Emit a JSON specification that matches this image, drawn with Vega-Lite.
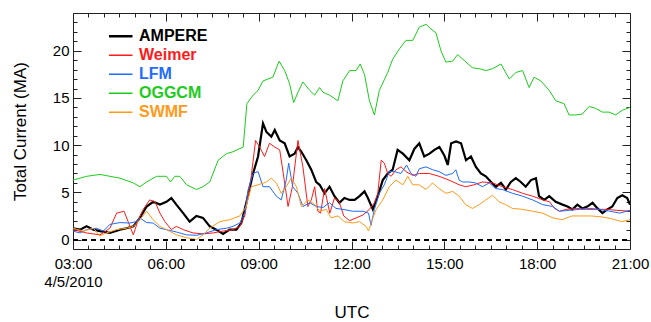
{
  "$schema": "https://vega.github.io/schema/vega-lite/v6.json",
  "width": 557,
  "height": 236,
  "autosize": {"type": "none"},
  "padding": {"left": 73, "top": 13, "right": 21, "bottom": 73},
  "config": {
    "font": "Liberation Sans",
    "view": {"stroke": "#222", "strokeWidth": 1}
  },
  "data": {"values": [
    {"m":"AMPERE","h":3.0,"v":1.2},{"m":"AMPERE","h":3.23,"v":1.05},{"m":"AMPERE","h":3.44,"v":1.4},{"m":"AMPERE","h":3.66,"v":1.05},{"m":"AMPERE","h":3.87,"v":0.9},{"m":"AMPERE","h":4.19,"v":0.7},{"m":"AMPERE","h":4.52,"v":1.05},{"m":"AMPERE","h":4.73,"v":1.2},{"m":"AMPERE","h":4.95,"v":1.4},{"m":"AMPERE","h":5.16,"v":2.3},{"m":"AMPERE","h":5.38,"v":3.5},{"m":"AMPERE","h":5.59,"v":4.0},{"m":"AMPERE","h":5.81,"v":3.7},{"m":"AMPERE","h":6.02,"v":4.0},{"m":"AMPERE","h":6.18,"v":4.4},{"m":"AMPERE","h":6.34,"v":3.7},{"m":"AMPERE","h":6.56,"v":2.8},{"m":"AMPERE","h":6.77,"v":1.9},{"m":"AMPERE","h":6.99,"v":2.5},{"m":"AMPERE","h":7.2,"v":2.3},{"m":"AMPERE","h":7.42,"v":1.4},{"m":"AMPERE","h":7.63,"v":1.05},{"m":"AMPERE","h":7.85,"v":0.6},{"m":"AMPERE","h":8.06,"v":1.05},{"m":"AMPERE","h":8.28,"v":1.05},{"m":"AMPERE","h":8.44,"v":1.75},{"m":"AMPERE","h":8.6,"v":3.9},{"m":"AMPERE","h":8.82,"v":7.0},{"m":"AMPERE","h":8.98,"v":8.8},{"m":"AMPERE","h":9.14,"v":12.3},{"m":"AMPERE","h":9.25,"v":11.4},{"m":"AMPERE","h":9.41,"v":10.9},{"m":"AMPERE","h":9.52,"v":11.6},{"m":"AMPERE","h":9.68,"v":10.5},{"m":"AMPERE","h":9.84,"v":10.2},{"m":"AMPERE","h":10.0,"v":8.8},{"m":"AMPERE","h":10.16,"v":9.1},{"m":"AMPERE","h":10.27,"v":9.8},{"m":"AMPERE","h":10.38,"v":9.3},{"m":"AMPERE","h":10.54,"v":8.4},{"m":"AMPERE","h":10.7,"v":7.4},{"m":"AMPERE","h":10.86,"v":6.1},{"m":"AMPERE","h":10.97,"v":5.8},{"m":"AMPERE","h":11.13,"v":4.9},{"m":"AMPERE","h":11.29,"v":5.6},{"m":"AMPERE","h":11.45,"v":4.6},{"m":"AMPERE","h":11.61,"v":3.9},{"m":"AMPERE","h":11.77,"v":4.4},{"m":"AMPERE","h":11.94,"v":4.2},{"m":"AMPERE","h":12.1,"v":4.2},{"m":"AMPERE","h":12.26,"v":4.6},{"m":"AMPERE","h":12.42,"v":5.1},{"m":"AMPERE","h":12.53,"v":4.4},{"m":"AMPERE","h":12.69,"v":3.2},{"m":"AMPERE","h":12.85,"v":4.6},{"m":"AMPERE","h":13.01,"v":6.3},{"m":"AMPERE","h":13.17,"v":7.0},{"m":"AMPERE","h":13.33,"v":7.4},{"m":"AMPERE","h":13.49,"v":9.5},{"m":"AMPERE","h":13.66,"v":9.1},{"m":"AMPERE","h":13.87,"v":8.4},{"m":"AMPERE","h":14.03,"v":9.6},{"m":"AMPERE","h":14.19,"v":10.2},{"m":"AMPERE","h":14.35,"v":8.8},{"m":"AMPERE","h":14.52,"v":9.1},{"m":"AMPERE","h":14.68,"v":9.5},{"m":"AMPERE","h":14.84,"v":9.8},{"m":"AMPERE","h":15.0,"v":8.9},{"m":"AMPERE","h":15.11,"v":7.9},{"m":"AMPERE","h":15.22,"v":10.2},{"m":"AMPERE","h":15.38,"v":10.4},{"m":"AMPERE","h":15.54,"v":10.2},{"m":"AMPERE","h":15.7,"v":8.4},{"m":"AMPERE","h":15.86,"v":8.8},{"m":"AMPERE","h":16.02,"v":7.7},{"m":"AMPERE","h":16.18,"v":7.0},{"m":"AMPERE","h":16.34,"v":6.7},{"m":"AMPERE","h":16.51,"v":6.1},{"m":"AMPERE","h":16.67,"v":5.6},{"m":"AMPERE","h":16.83,"v":6.0},{"m":"AMPERE","h":16.99,"v":5.3},{"m":"AMPERE","h":17.15,"v":6.1},{"m":"AMPERE","h":17.31,"v":6.5},{"m":"AMPERE","h":17.47,"v":6.1},{"m":"AMPERE","h":17.63,"v":5.6},{"m":"AMPERE","h":17.8,"v":6.3},{"m":"AMPERE","h":17.96,"v":6.5},{"m":"AMPERE","h":18.06,"v":4.6},{"m":"AMPERE","h":18.23,"v":4.2},{"m":"AMPERE","h":18.39,"v":4.6},{"m":"AMPERE","h":18.6,"v":4.0},{"m":"AMPERE","h":18.82,"v":3.7},{"m":"AMPERE","h":18.98,"v":3.5},{"m":"AMPERE","h":19.14,"v":3.2},{"m":"AMPERE","h":19.3,"v":3.7},{"m":"AMPERE","h":19.46,"v":3.3},{"m":"AMPERE","h":19.62,"v":3.5},{"m":"AMPERE","h":19.79,"v":3.9},{"m":"AMPERE","h":19.95,"v":3.3},{"m":"AMPERE","h":20.11,"v":2.8},{"m":"AMPERE","h":20.27,"v":3.2},{"m":"AMPERE","h":20.43,"v":3.5},{"m":"AMPERE","h":20.59,"v":4.4},{"m":"AMPERE","h":20.75,"v":4.7},{"m":"AMPERE","h":20.91,"v":4.4},{"m":"AMPERE","h":21.0,"v":3.7},
    {"m":"Weimer","h":3.0,"v":1.05},{"m":"Weimer","h":3.44,"v":0.7},{"m":"Weimer","h":3.87,"v":0.5},{"m":"Weimer","h":4.19,"v":1.2},{"m":"Weimer","h":4.41,"v":2.8},{"m":"Weimer","h":4.65,"v":3.0},{"m":"Weimer","h":4.78,"v":1.9},{"m":"Weimer","h":4.95,"v":0.5},{"m":"Weimer","h":5.11,"v":2.1},{"m":"Weimer","h":5.27,"v":3.2},{"m":"Weimer","h":5.48,"v":4.2},{"m":"Weimer","h":5.65,"v":4.0},{"m":"Weimer","h":5.81,"v":2.8},{"m":"Weimer","h":5.97,"v":1.9},{"m":"Weimer","h":6.18,"v":1.05},{"m":"Weimer","h":6.34,"v":1.4},{"m":"Weimer","h":6.56,"v":1.05},{"m":"Weimer","h":6.88,"v":0.7},{"m":"Weimer","h":7.2,"v":0.6},{"m":"Weimer","h":7.53,"v":0.7},{"m":"Weimer","h":7.85,"v":0.9},{"m":"Weimer","h":8.17,"v":1.05},{"m":"Weimer","h":8.39,"v":1.4},{"m":"Weimer","h":8.55,"v":2.5},{"m":"Weimer","h":8.76,"v":6.7},{"m":"Weimer","h":8.9,"v":10.5},{"m":"Weimer","h":9.03,"v":9.8},{"m":"Weimer","h":9.19,"v":8.8},{"m":"Weimer","h":9.35,"v":10.2},{"m":"Weimer","h":9.52,"v":9.8},{"m":"Weimer","h":9.68,"v":9.5},{"m":"Weimer","h":9.84,"v":6.0},{"m":"Weimer","h":9.95,"v":3.5},{"m":"Weimer","h":10.09,"v":5.6},{"m":"Weimer","h":10.27,"v":10.5},{"m":"Weimer","h":10.43,"v":7.7},{"m":"Weimer","h":10.59,"v":3.5},{"m":"Weimer","h":10.7,"v":4.2},{"m":"Weimer","h":10.81,"v":5.6},{"m":"Weimer","h":10.91,"v":3.0},{"m":"Weimer","h":11.0,"v":2.8},{"m":"Weimer","h":11.13,"v":5.4},{"m":"Weimer","h":11.3,"v":2.8},{"m":"Weimer","h":11.45,"v":4.4},{"m":"Weimer","h":11.6,"v":4.0},{"m":"Weimer","h":11.75,"v":2.5},{"m":"Weimer","h":11.94,"v":2.0},{"m":"Weimer","h":12.15,"v":2.3},{"m":"Weimer","h":12.37,"v":2.6},{"m":"Weimer","h":12.58,"v":3.2},{"m":"Weimer","h":12.74,"v":3.9},{"m":"Weimer","h":12.85,"v":4.9},{"m":"Weimer","h":12.96,"v":8.4},{"m":"Weimer","h":13.06,"v":8.1},{"m":"Weimer","h":13.17,"v":7.0},{"m":"Weimer","h":13.28,"v":6.7},{"m":"Weimer","h":13.44,"v":7.4},{"m":"Weimer","h":13.6,"v":7.7},{"m":"Weimer","h":13.76,"v":7.2},{"m":"Weimer","h":13.98,"v":6.8},{"m":"Weimer","h":14.19,"v":7.0},{"m":"Weimer","h":14.51,"v":7.0},{"m":"Weimer","h":14.83,"v":6.7},{"m":"Weimer","h":15.15,"v":6.3},{"m":"Weimer","h":15.48,"v":5.8},{"m":"Weimer","h":15.69,"v":5.6},{"m":"Weimer","h":15.96,"v":5.8},{"m":"Weimer","h":16.23,"v":6.1},{"m":"Weimer","h":16.56,"v":6.0},{"m":"Weimer","h":16.88,"v":5.6},{"m":"Weimer","h":17.2,"v":5.3},{"m":"Weimer","h":17.53,"v":4.9},{"m":"Weimer","h":17.85,"v":4.6},{"m":"Weimer","h":18.18,"v":4.2},{"m":"Weimer","h":18.4,"v":4.0},{"m":"Weimer","h":18.56,"v":3.3},{"m":"Weimer","h":18.72,"v":3.0},{"m":"Weimer","h":18.94,"v":3.2},{"m":"Weimer","h":19.27,"v":3.3},{"m":"Weimer","h":19.59,"v":3.2},{"m":"Weimer","h":19.91,"v":3.2},{"m":"Weimer","h":20.24,"v":3.2},{"m":"Weimer","h":20.56,"v":3.1},{"m":"Weimer","h":21.0,"v":3.0},
    {"m":"LFM","h":3.0,"v":0.9},{"m":"LFM","h":3.23,"v":0.7},{"m":"LFM","h":3.44,"v":1.05},{"m":"LFM","h":3.76,"v":1.2},{"m":"LFM","h":3.98,"v":0.9},{"m":"LFM","h":4.19,"v":1.6},{"m":"LFM","h":4.52,"v":1.8},{"m":"LFM","h":4.84,"v":1.75},{"m":"LFM","h":5.05,"v":1.9},{"m":"LFM","h":5.16,"v":2.3},{"m":"LFM","h":5.38,"v":1.8},{"m":"LFM","h":5.59,"v":1.75},{"m":"LFM","h":5.81,"v":1.2},{"m":"LFM","h":6.02,"v":1.05},{"m":"LFM","h":6.34,"v":0.8},{"m":"LFM","h":6.67,"v":0.5},{"m":"LFM","h":6.99,"v":0.45},{"m":"LFM","h":7.31,"v":0.7},{"m":"LFM","h":7.63,"v":1.05},{"m":"LFM","h":7.96,"v":1.2},{"m":"LFM","h":8.17,"v":1.4},{"m":"LFM","h":8.39,"v":1.75},{"m":"LFM","h":8.55,"v":2.8},{"m":"LFM","h":8.66,"v":5.3},{"m":"LFM","h":8.82,"v":7.0},{"m":"LFM","h":8.98,"v":7.2},{"m":"LFM","h":9.14,"v":5.6},{"m":"LFM","h":9.35,"v":5.6},{"m":"LFM","h":9.57,"v":4.6},{"m":"LFM","h":9.73,"v":4.2},{"m":"LFM","h":9.89,"v":6.3},{"m":"LFM","h":9.97,"v":8.1},{"m":"LFM","h":10.1,"v":5.6},{"m":"LFM","h":10.27,"v":4.9},{"m":"LFM","h":10.43,"v":3.5},{"m":"LFM","h":10.65,"v":3.9},{"m":"LFM","h":10.86,"v":3.5},{"m":"LFM","h":11.08,"v":3.4},{"m":"LFM","h":11.29,"v":3.9},{"m":"LFM","h":11.5,"v":3.3},{"m":"LFM","h":11.72,"v":3.2},{"m":"LFM","h":12.04,"v":3.0},{"m":"LFM","h":12.37,"v":3.0},{"m":"LFM","h":12.55,"v":2.8},{"m":"LFM","h":12.63,"v":1.5},{"m":"LFM","h":12.74,"v":3.2},{"m":"LFM","h":12.9,"v":4.9},{"m":"LFM","h":13.06,"v":5.8},{"m":"LFM","h":13.22,"v":7.2},{"m":"LFM","h":13.39,"v":7.2},{"m":"LFM","h":13.6,"v":7.0},{"m":"LFM","h":13.78,"v":7.9},{"m":"LFM","h":13.92,"v":7.0},{"m":"LFM","h":14.08,"v":6.7},{"m":"LFM","h":14.19,"v":7.5},{"m":"LFM","h":14.41,"v":7.7},{"m":"LFM","h":14.62,"v":7.4},{"m":"LFM","h":14.83,"v":7.2},{"m":"LFM","h":15.05,"v":6.8},{"m":"LFM","h":15.27,"v":7.0},{"m":"LFM","h":15.37,"v":7.4},{"m":"LFM","h":15.48,"v":6.3},{"m":"LFM","h":15.59,"v":6.1},{"m":"LFM","h":15.8,"v":6.1},{"m":"LFM","h":16.01,"v":6.0},{"m":"LFM","h":16.23,"v":5.6},{"m":"LFM","h":16.45,"v":6.0},{"m":"LFM","h":16.66,"v":5.4},{"m":"LFM","h":16.88,"v":5.3},{"m":"LFM","h":17.2,"v":4.9},{"m":"LFM","h":17.53,"v":4.6},{"m":"LFM","h":17.85,"v":4.2},{"m":"LFM","h":18.18,"v":3.7},{"m":"LFM","h":18.5,"v":3.5},{"m":"LFM","h":18.72,"v":3.0},{"m":"LFM","h":19.05,"v":3.1},{"m":"LFM","h":19.37,"v":3.2},{"m":"LFM","h":19.7,"v":3.3},{"m":"LFM","h":20.02,"v":3.2},{"m":"LFM","h":20.35,"v":3.0},{"m":"LFM","h":20.67,"v":2.8},{"m":"LFM","h":21.0,"v":3.1},
    {"m":"OGGCM","h":3.0,"v":6.3},{"m":"OGGCM","h":3.44,"v":6.7},{"m":"OGGCM","h":3.87,"v":6.9},{"m":"OGGCM","h":4.19,"v":6.7},{"m":"OGGCM","h":4.52,"v":6.5},{"m":"OGGCM","h":4.95,"v":6.0},{"m":"OGGCM","h":5.16,"v":5.6},{"m":"OGGCM","h":5.38,"v":6.1},{"m":"OGGCM","h":5.7,"v":6.7},{"m":"OGGCM","h":6.02,"v":6.7},{"m":"OGGCM","h":6.15,"v":6.1},{"m":"OGGCM","h":6.29,"v":6.7},{"m":"OGGCM","h":6.45,"v":6.7},{"m":"OGGCM","h":6.67,"v":5.8},{"m":"OGGCM","h":6.99,"v":5.3},{"m":"OGGCM","h":7.2,"v":5.6},{"m":"OGGCM","h":7.42,"v":6.1},{"m":"OGGCM","h":7.69,"v":8.4},{"m":"OGGCM","h":7.96,"v":9.1},{"m":"OGGCM","h":8.17,"v":9.3},{"m":"OGGCM","h":8.5,"v":9.8},{"m":"OGGCM","h":8.62,"v":14.4},{"m":"OGGCM","h":8.82,"v":15.3},{"m":"OGGCM","h":8.98,"v":15.8},{"m":"OGGCM","h":9.14,"v":16.8},{"m":"OGGCM","h":9.3,"v":17.0},{"m":"OGGCM","h":9.46,"v":17.2},{"m":"OGGCM","h":9.66,"v":18.9},{"m":"OGGCM","h":9.84,"v":17.9},{"m":"OGGCM","h":10.0,"v":16.5},{"m":"OGGCM","h":10.13,"v":14.5},{"m":"OGGCM","h":10.27,"v":15.6},{"m":"OGGCM","h":10.43,"v":16.7},{"m":"OGGCM","h":10.65,"v":15.8},{"m":"OGGCM","h":10.81,"v":15.3},{"m":"OGGCM","h":10.97,"v":16.1},{"m":"OGGCM","h":11.08,"v":15.6},{"m":"OGGCM","h":11.29,"v":15.3},{"m":"OGGCM","h":11.56,"v":14.7},{"m":"OGGCM","h":11.72,"v":16.8},{"m":"OGGCM","h":11.94,"v":17.9},{"m":"OGGCM","h":12.15,"v":17.9},{"m":"OGGCM","h":12.28,"v":18.6},{"m":"OGGCM","h":12.42,"v":17.5},{"m":"OGGCM","h":12.58,"v":14.7},{"m":"OGGCM","h":12.74,"v":13.2},{"m":"OGGCM","h":12.9,"v":15.8},{"m":"OGGCM","h":13.07,"v":17.0},{"m":"OGGCM","h":13.17,"v":17.7},{"m":"OGGCM","h":13.33,"v":19.1},{"m":"OGGCM","h":13.55,"v":20.2},{"m":"OGGCM","h":13.76,"v":21.1},{"m":"OGGCM","h":13.98,"v":21.1},{"m":"OGGCM","h":14.19,"v":22.5},{"m":"OGGCM","h":14.41,"v":22.8},{"m":"OGGCM","h":14.57,"v":22.3},{"m":"OGGCM","h":14.73,"v":21.9},{"m":"OGGCM","h":14.89,"v":20.0},{"m":"OGGCM","h":15.05,"v":18.8},{"m":"OGGCM","h":15.27,"v":18.9},{"m":"OGGCM","h":15.43,"v":19.6},{"m":"OGGCM","h":15.7,"v":18.8},{"m":"OGGCM","h":15.91,"v":18.2},{"m":"OGGCM","h":16.13,"v":18.1},{"m":"OGGCM","h":16.34,"v":17.9},{"m":"OGGCM","h":16.56,"v":18.1},{"m":"OGGCM","h":16.83,"v":18.6},{"m":"OGGCM","h":17.1,"v":17.0},{"m":"OGGCM","h":17.31,"v":17.7},{"m":"OGGCM","h":17.53,"v":17.9},{"m":"OGGCM","h":17.74,"v":16.1},{"m":"OGGCM","h":17.9,"v":17.2},{"m":"OGGCM","h":18.12,"v":16.8},{"m":"OGGCM","h":18.39,"v":15.8},{"m":"OGGCM","h":18.6,"v":14.7},{"m":"OGGCM","h":18.87,"v":14.4},{"m":"OGGCM","h":19.03,"v":13.2},{"m":"OGGCM","h":19.25,"v":13.2},{"m":"OGGCM","h":19.46,"v":13.3},{"m":"OGGCM","h":19.68,"v":14.1},{"m":"OGGCM","h":19.89,"v":13.9},{"m":"OGGCM","h":20.11,"v":13.5},{"m":"OGGCM","h":20.32,"v":13.5},{"m":"OGGCM","h":20.54,"v":13.2},{"m":"OGGCM","h":20.75,"v":13.7},{"m":"OGGCM","h":21.0,"v":14.0},
    {"m":"SWMF","h":3.0,"v":1.2},{"m":"SWMF","h":3.33,"v":0.9},{"m":"SWMF","h":3.66,"v":1.2},{"m":"SWMF","h":3.87,"v":0.4},{"m":"SWMF","h":4.08,"v":0.7},{"m":"SWMF","h":4.41,"v":1.05},{"m":"SWMF","h":4.73,"v":1.2},{"m":"SWMF","h":4.95,"v":1.4},{"m":"SWMF","h":5.16,"v":2.1},{"m":"SWMF","h":5.38,"v":3.0},{"m":"SWMF","h":5.59,"v":2.1},{"m":"SWMF","h":5.81,"v":1.4},{"m":"SWMF","h":6.02,"v":1.05},{"m":"SWMF","h":6.34,"v":0.5},{"m":"SWMF","h":6.67,"v":0.2},{"m":"SWMF","h":6.99,"v":0.0},{"m":"SWMF","h":7.2,"v":0.5},{"m":"SWMF","h":7.42,"v":1.2},{"m":"SWMF","h":7.74,"v":1.9},{"m":"SWMF","h":8.06,"v":2.1},{"m":"SWMF","h":8.39,"v":2.5},{"m":"SWMF","h":8.6,"v":3.5},{"m":"SWMF","h":8.76,"v":5.6},{"m":"SWMF","h":8.98,"v":5.8},{"m":"SWMF","h":9.25,"v":6.1},{"m":"SWMF","h":9.41,"v":6.5},{"m":"SWMF","h":9.57,"v":6.0},{"m":"SWMF","h":9.73,"v":4.9},{"m":"SWMF","h":9.89,"v":5.6},{"m":"SWMF","h":10.05,"v":6.5},{"m":"SWMF","h":10.22,"v":5.6},{"m":"SWMF","h":10.38,"v":3.5},{"m":"SWMF","h":10.59,"v":4.2},{"m":"SWMF","h":10.81,"v":3.7},{"m":"SWMF","h":10.97,"v":3.0},{"m":"SWMF","h":11.18,"v":3.2},{"m":"SWMF","h":11.34,"v":2.3},{"m":"SWMF","h":11.56,"v":2.5},{"m":"SWMF","h":11.77,"v":1.9},{"m":"SWMF","h":12.04,"v":1.75},{"m":"SWMF","h":12.26,"v":1.9},{"m":"SWMF","h":12.47,"v":1.4},{"m":"SWMF","h":12.55,"v":0.9},{"m":"SWMF","h":12.67,"v":2.1},{"m":"SWMF","h":12.8,"v":3.2},{"m":"SWMF","h":13.01,"v":4.2},{"m":"SWMF","h":13.22,"v":5.6},{"m":"SWMF","h":13.44,"v":6.3},{"m":"SWMF","h":13.66,"v":5.8},{"m":"SWMF","h":13.82,"v":6.7},{"m":"SWMF","h":13.98,"v":5.8},{"m":"SWMF","h":14.19,"v":5.8},{"m":"SWMF","h":14.41,"v":5.3},{"m":"SWMF","h":14.62,"v":6.0},{"m":"SWMF","h":14.83,"v":5.4},{"m":"SWMF","h":15.05,"v":4.9},{"m":"SWMF","h":15.27,"v":5.1},{"m":"SWMF","h":15.48,"v":4.6},{"m":"SWMF","h":15.69,"v":3.7},{"m":"SWMF","h":15.91,"v":3.3},{"m":"SWMF","h":16.13,"v":3.7},{"m":"SWMF","h":16.34,"v":4.2},{"m":"SWMF","h":16.56,"v":4.7},{"m":"SWMF","h":16.77,"v":4.0},{"m":"SWMF","h":16.98,"v":3.7},{"m":"SWMF","h":17.2,"v":3.3},{"m":"SWMF","h":17.53,"v":3.2},{"m":"SWMF","h":17.85,"v":3.0},{"m":"SWMF","h":18.18,"v":2.8},{"m":"SWMF","h":18.5,"v":2.3},{"m":"SWMF","h":18.8,"v":2.1},{"m":"SWMF","h":19.12,"v":2.5},{"m":"SWMF","h":19.44,"v":2.5},{"m":"SWMF","h":19.76,"v":2.5},{"m":"SWMF","h":20.09,"v":2.4},{"m":"SWMF","h":20.41,"v":2.2},{"m":"SWMF","h":20.73,"v":1.9},{"m":"SWMF","h":21.0,"v":2.1}
  ]},
  "layer": [
    {
      "mark": {"type": "line", "clip": true},
      "encoding": {
        "x": {"field": "h", "type": "quantitative",
          "scale": {"domain": [3, 21], "nice": false, "zero": false},
          "axis": {"orient": "bottom", "values": [3, 6, 9, 12, 15, 18, 21], "ticks": false, "domain": false, "grid": false,
            "labelExpr": "datum.value == 3 ? ['03:00', '4/5/2010'] : ((datum.value < 10 ? '0' : '') + datum.value + ':00')",
            "labelFontSize": 15, "labelLineHeight": 18, "labelColor": "#000", "labelPadding": 7, "labelFlush": false, "labelOverlap": false,
            "title": "UTC", "titleFontSize": 17, "titleFontWeight": "normal", "titleColor": "#000", "titlePadding": 15}},
        "y": {"field": "v", "type": "quantitative",
          "scale": {"domain": [-1, 24], "nice": false, "zero": false},
          "axis": {"orient": "left", "values": [0, 5, 10, 15, 20], "ticks": false, "domain": false, "grid": false,
            "labelFontSize": 15, "labelColor": "#000", "labelPadding": 4,
            "title": "Total Current (MA)", "titleFontSize": 17, "titleFontWeight": "normal", "titleColor": "#000", "titlePadding": 23}},
        "color": {"field": "m", "type": "nominal",
          "scale": {"domain": ["AMPERE", "Weimer", "LFM", "OGGCM", "SWMF"], "range": ["#000000", "#ff1a1a", "#1f6bff", "#1ccc1c", "#ff9a1a"]},
          "legend": {"orient": "none", "legendX": 36, "legendY": 14, "title": null, "padding": 0,
            "symbolType": "stroke", "symbolSize": 961, "symbolStrokeWidth": 1.3, "clipHeight": 18.5, "rowPadding": 0,
            "labelFontSize": 16, "labelFontWeight": "bold", "labelOffset": 14,
            "encode": {
              "labels": {"update": {"fill": {"scale": "color", "field": "value"}}},
              "symbols": {"update": {"strokeWidth": {"signal": "datum.value === 'AMPERE' ? 2.5 : 1.3"}}}
            }}},
        "strokeWidth": {"condition": {"test": "datum.m === 'AMPERE'", "value": 2.2}, "value": 1}
      }
    },
    {
      "mark": {"type": "rule", "color": "#000", "strokeWidth": 1, "strokeDash": [5, 4]},
      "encoding": {
        "x": {"datum": 3, "type": "quantitative", "scale": {"domain": [3, 21], "nice": false, "zero": false},
          "axis": {"orient": "bottom", "labels": false, "domain": false, "grid": false, "title": null,
            "values": [3,3.5,4,4.5,5,5.5,6,6.5,7,7.5,8,8.5,9,9.5,10,10.5,11,11.5,12,12.5,13,13.5,14,14.5,15,15.5,16,16.5,17,17.5,18,18.5,19,19.5,20,20.5,21],
            "tickColor": "#222", "tickWidth": 1,
            "tickSize": {"condition": {"test": "datum.value % 3 === 0", "value": -8}, "value": -4}}},
        "x2": {"datum": 21},
        "y": {"datum": 0, "type": "quantitative", "scale": {"domain": [-1, 24], "nice": false, "zero": false},
          "axis": {"orient": "left", "labels": false, "domain": false, "grid": false, "title": null,
            "values": [0,1,2,3,4,5,6,7,8,9,10,11,12,13,14,15,16,17,18,19,20,21,22,23],
            "tickColor": "#222", "tickWidth": 1,
            "tickSize": {"condition": {"test": "datum.value % 5 === 0", "value": -8}, "value": -4}}}
      }
    },
    {
      "mark": {"type": "rule", "color": "#000", "opacity": 0},
      "encoding": {
        "x": {"datum": 3, "type": "quantitative", "scale": {"domain": [3, 21], "nice": false, "zero": false},
          "axis": {"orient": "top", "labels": false, "domain": false, "grid": false, "title": null,
            "values": [3,3.5,4,4.5,5,5.5,6,6.5,7,7.5,8,8.5,9,9.5,10,10.5,11,11.5,12,12.5,13,13.5,14,14.5,15,15.5,16,16.5,17,17.5,18,18.5,19,19.5,20,20.5,21],
            "tickColor": "#222", "tickWidth": 1,
            "tickSize": {"condition": {"test": "datum.value % 3 === 0", "value": -8}, "value": -4}}},
        "x2": {"datum": 21},
        "y": {"datum": 0, "type": "quantitative", "scale": {"domain": [-1, 24], "nice": false, "zero": false},
          "axis": {"orient": "right", "labels": false, "domain": false, "grid": false, "title": null,
            "values": [0,1,2,3,4,5,6,7,8,9,10,11,12,13,14,15,16,17,18,19,20,21,22,23],
            "tickColor": "#222", "tickWidth": 1,
            "tickSize": {"condition": {"test": "datum.value % 5 === 0", "value": -8}, "value": -4}}}
      }
    }
  ],
  "resolve": {"axis": {"x": "independent", "y": "independent"}}
}
